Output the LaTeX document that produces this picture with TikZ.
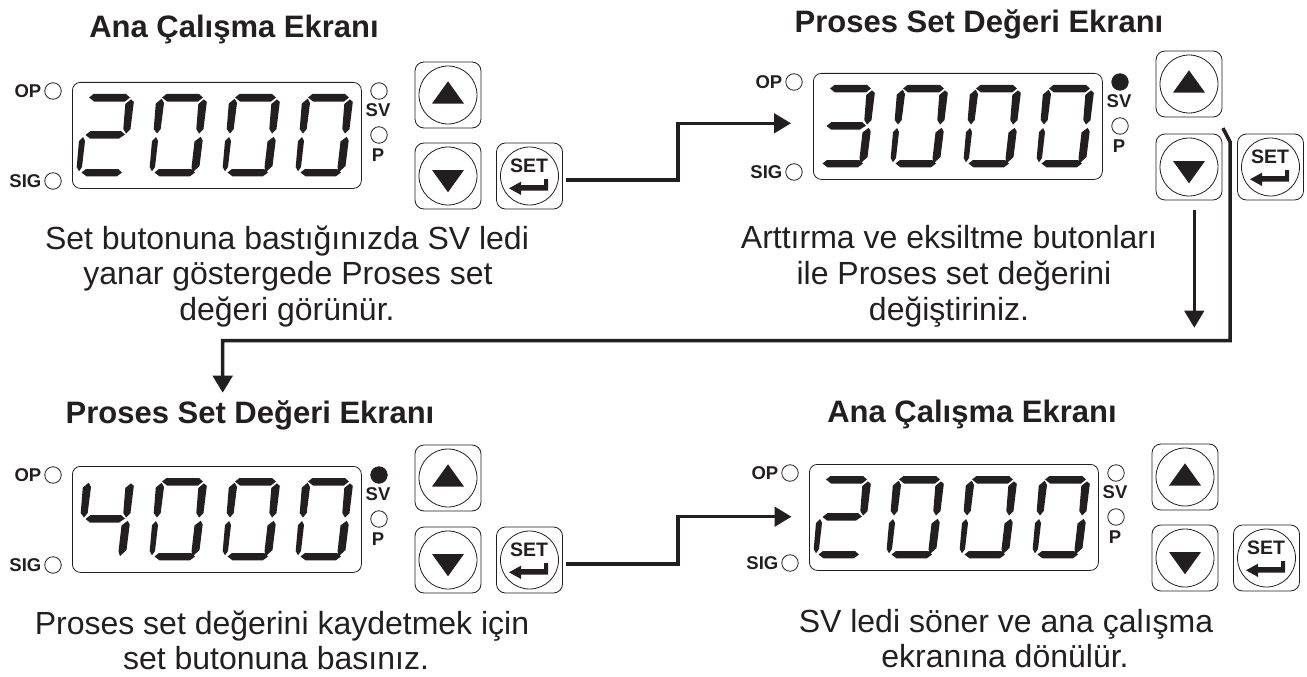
\documentclass[tikz,border=0pt]{standalone}
\usepackage{fontspec}
\setmainfont{Liberation Sans}
\usetikzlibrary{arrows.meta,calc}
\definecolor{ink}{HTML}{231F20}
\tikzset{
  framebox/.style={draw=ink,line width=0.8pt,rounded corners=#1,inner sep=0pt},
  dispbox/.style={framebox=8pt,minimum width=289pt,minimum height=106pt},
  btnbox/.style={framebox=9pt,minimum width=66pt,minimum height=66pt},
  btnring/.style={circle,draw=ink,line width=0.8pt,minimum size=58pt,inner sep=0pt},
  led/.style={circle,draw=ink,line width=0.8pt,minimum size=16.5pt,inner sep=0pt},
  ledon/.style={led,fill=ink},
  ledtxt/.style={font=\bfseries\fontsize{18.5}{20}\selectfont,text=ink,inner sep=0pt},
  settxt/.style={font=\bfseries\fontsize{19.5}{20}\selectfont,text=ink,inner sep=0pt,anchor=base},
  titletxt/.style={font=\bfseries\fontsize{31}{36}\selectfont,text=ink,inner sep=0pt,anchor=base},
  bodytxt/.style={font=\fontsize{32}{38}\selectfont,text=ink,inner sep=0pt,anchor=base},
  conn/.style={draw=ink,line width=3.5pt,miter limit=10},
  connhead/.style={-{Triangle[length=17pt,width=19.5pt]}},
}
\def\sega{(13,3.5)--(17.5,0)--(50,0)--(54,3.5)--(49,7.5)--(18,7.5)--cycle }
\def\segb{(55,5.3)--(57.8,8)--(54.5,35)--(50,39.5)--(47.3,35)--(49.3,10)--cycle }
\def\segc{(51.7,42.8)--(53.7,46.5)--(50.5,72)--(44,78)--(42.5,73.5)--(45.5,47.5)--cycle }
\def\segd{(5.5,78.5)--(10,75)--(42,75)--(46,78.5)--(41,82.3)--(10.5,82.3)--cycle }
\def\sege{(7,43)--(9,47)--(6,73)--(3,77.3)--(0.7,73)--(3,47)--cycle }
\def\segf{(12.7,4.7)--(15,9)--(11.7,35)--(8,39.5)--(4.7,35)--(6.8,9.5)--cycle }
\def\segg{(9.5,41)--(14.5,37)--(45,37)--(49,40.5)--(43,44.5)--(14,44.5)--cycle }
\newcommand\digTwo{\fill[ink] \sega \segb \segg \sege \segd;}
\newcommand\digThree{\fill[ink] \sega \segb \segg \segc \segd;}
\newcommand\digFour{\fill[ink] \segf \segb \segg \segc;}
\newcommand\digZero{\fill[ink] \sega \segb \segc \segd \sege \segf;}
% #1 name, #2 x, #3 y, #4 up-button offset, #5 first digit, #6 SV led style
\newcommand\Panel[6]{%
\begin{scope}[shift={(#2,#3)}]
  \node[dispbox,anchor=north west] (disp#1) at (0,0) {};
  \begin{scope}[shift={(4,12)}] #5 \end{scope}
  \begin{scope}[shift={(77,12)}] \digZero \end{scope}
  \begin{scope}[shift={(150,12)}] \digZero \end{scope}
  \begin{scope}[shift={(223,12)}] \digZero \end{scope}
  \node[led] (op#1) at (-19,9) {};
  \node[led] (sig#1) at (-19,99) {};
  \node[#6] (sv#1) at (307,9) {};
  \node[led] (p#1) at (307,53) {};
  \node[ledtxt,anchor=base east] (opt#1) at (-30.5,15.7) {OP};
  \node[ledtxt,anchor=base east] (sigt#1) at (-30.5,105.3) {SIG};
  \node[ledtxt,anchor=base] (svt#1) at (306,34.7) {SV};
  \node[ledtxt,anchor=base] (pt#1) at (306,79.7) {P};
  \node[btnbox] (up#1) at (376,#4+33) {};
  \node[btnring] (upr#1) at (376,#4+33) {};
  \fill[ink] (376,#4+19.3)--(392,#4+41.6)--(360,#4+41.6)--cycle;
  \node[btnbox] (down#1) at (376,94) {};
  \node[btnring] (downr#1) at (376,94) {};
  \fill[ink] (360,88)--(392,88)--(376,110.3)--cycle;
  \node[btnbox] (set#1) at (457.5,94) {};
  \node[btnring] (setr#1) at (457.5,94) {};
  \node[settxt] (sett#1) at (457,90.7) {SET};
  \begin{scope}[shift={(457.5,94)}]
    \fill[ink] (-20.5,12.3)--(-8.5,5.7)--(-8.5,9)--(14.5,9)--(14.5,3)--(18.5,3)--(18.5,14.7)--(-8.5,14.7)--(-8.5,19)--cycle;
  \end{scope}
\end{scope}}
\begin{document}
\begin{tikzpicture}[x=1pt,y=-1pt]
\useasboundingbox (0,0) rectangle (1307,677);
\Panel{A}{72}{82}{-20}{\digTwo}{led}
\Panel{B}{813}{73}{-22}{\digThree}{ledon}
\Panel{C}{72}{466}{-21}{\digFour}{ledon}
\Panel{D}{809}{464}{-20}{\digTwo}{led}
% titles
\node[titletxt] (t1) at (234,38) {Ana Çalışma Ekranı};
\node[titletxt] (t2) at (979,33) {Proses Set Değeri Ekranı};
\node[titletxt] (t3) at (250,423) {Proses Set Değeri Ekranı};
\node[titletxt] (t4) at (972,422.7) {Ana Çalışma Ekranı};
% body
\node[bodytxt] (a1) at (287,249.5) {Set butonuna bastığınızda SV ledi};
\node[bodytxt] (a2) at (288,284.5) {yanar göstergede Proses set};
\node[bodytxt] (a3) at (287,320) {değeri görünür.};
\node[bodytxt] (b1) at (949,248.5) {Arttırma ve eksiltme butonları};
\node[bodytxt] (b2) at (954,284) {ile Proses set değerini};
\node[bodytxt] (b3) at (949,320) {değiştiriniz.};
\node[bodytxt] (c1) at (282,634) {Proses set değerini kaydetmek için};
\node[bodytxt] (c2) at (276,669) {set butonuna basınız.};
\node[bodytxt] (d1) at (1006,632) {SV ledi söner ve ana çalışma};
\node[bodytxt] (d2) at (1005,667) {ekranına dönülür.};
% connector end points
\coordinate (k1) at (678,123.3);
\coordinate (h1) at (791,123.3);
\coordinate (k2) at (678,516.7);
\coordinate (h2) at (791.5,516.7);
\coordinate (k3) at (1230,141.7);
\coordinate (k4) at (1230,340.5);
\coordinate (k5) at (222.7,340.5);
\coordinate (h3) at (222.7,392.7);
\coordinate (h4) at (1194.3,327.7);
% connectors
\draw[conn,connhead] ([xshift=3.5pt,yshift=-4pt]setA.east) -| (k1) -- (h1);
\draw[conn,connhead] ([xshift=3.5pt,yshift=-4pt]setC.east) -| (k2) -- (h2);
\draw[conn,connhead] ([xshift=0.5pt,yshift=-10.7pt]upB.south east) -- (k3) -- (k4) -- (k5) -- (h3);
\draw[conn,line width=3pt,connhead] ([xshift=5.3pt,yshift=-9.3pt]downB.south) -- (h4);
\end{tikzpicture}
\end{document}
